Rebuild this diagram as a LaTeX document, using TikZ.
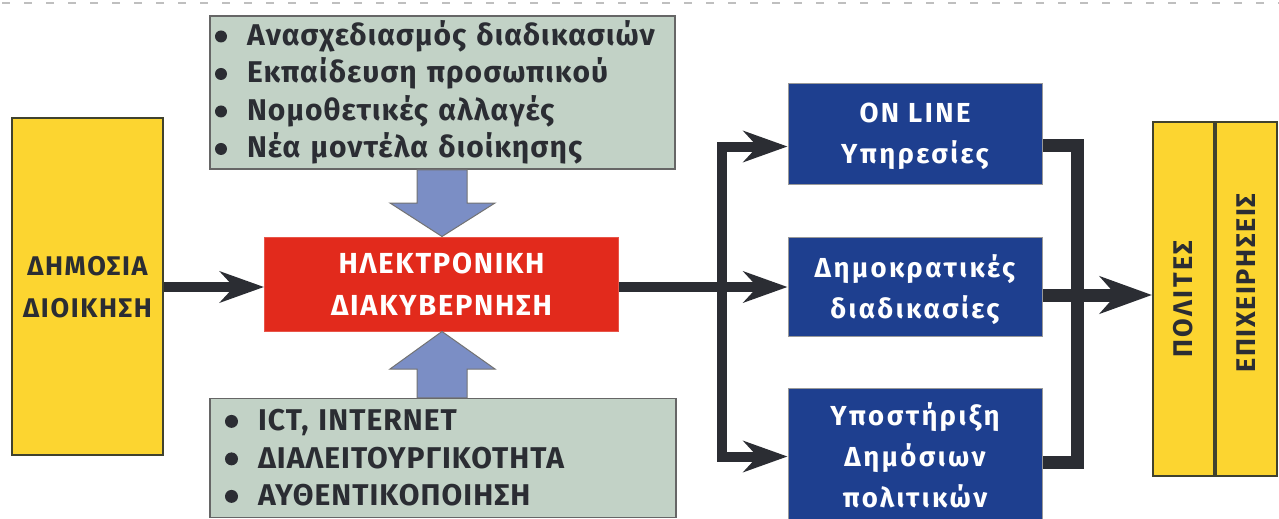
\documentclass[tikz,border=0pt]{standalone}
\usepackage{fontspec}
\setmainfont{Fira Sans}
\newfontfamily\widefont[LetterSpace=6]{Fira Sans}
\newfontfamily\widerfont[LetterSpace=9]{Fira Sans}
\newfontfamily\listfont[LetterSpace=3.5]{Fira Sans}
\usetikzlibrary{arrows.meta,calc}
\definecolor{yel}{HTML}{FCD530}
\definecolor{dk}{HTML}{2B2D33}
\definecolor{gry}{HTML}{C2D2C6}
\definecolor{blu}{HTML}{1E3F8F}
\definecolor{rd}{HTML}{E22A1C}
\definecolor{barr}{HTML}{7B8EC5}
\newcommand\bulA{\makebox[32pt][l]{\tikz[baseline=0pt,x=1pt,y=1pt]\fill (6,9) circle[radius=6pt];}}
\newcommand\bulB{\makebox[33pt][l]{\tikz[baseline=0pt,x=1pt,y=1pt]\fill (6.5,9.5) circle[radius=6.5pt];}}
\tikzset{
  ybox/.style={draw=dk!90!yellow, line width=2pt, fill=yel, inner sep=0pt, align=center, text=dk, font=\widefont\bfseries\fontsize{27}{42}\selectfont},
  gbox/.style={draw=black!60, line width=1.5pt, fill=gry, inner sep=0pt, align=left, text=dk, font=\listfont\bfseries\fontsize{30}{37.5}\selectfont},
  bbox/.style={draw=black!40, line width=1pt, fill=blu, inner sep=0pt, align=center, text=white, minimum width=254pt, text depth=-5pt, font=\widerfont\bfseries\fontsize{27.5}{41}\selectfont},
  rbox/.style={draw=rd!80!white, line width=1pt, fill=rd, inner sep=0pt, align=center, text=white, text depth=-8pt, font=\widefont\bfseries\fontsize{29}{42}\selectfont},
  dline/.style={draw=dk, line width=10pt, line join=miter},
  dlinew/.style={draw=dk, line width=13pt, line join=miter},
  arr/.style={-{Stealth[length=44pt,width=31pt,inset=14pt]}},
  arrbig/.style={-{Stealth[length=52pt,width=37pt,inset=16pt]}},
  blockarrow/.style={fill=barr, draw=black!55, line width=1pt},
}
\begin{document}
\begin{tikzpicture}[x=1pt,y=-1pt]
\useasboundingbox (0,0) rectangle (1279,519);
\fill[white] (0,0) rectangle (1279,519);
% top dashed line
\draw[black!25, line width=1.5pt, dash pattern=on 8pt off 14pt] (2,3) -- (1279,3);

% nodes
\node[ybox, minimum width=151pt, minimum height=337pt, text depth=-6pt] (dd) at (87.5,286.5) {ΔΗΜΟΣΙΑ\\ΔΙΟΙΚΗΣΗ};
\node[gbox, minimum width=465pt, minimum height=153pt, text width=455pt] (top) at (442.5,92.5)
  {\bulA Ανασχεδιασμός διαδικασιών\\\bulA Εκπαίδευση προσωπικού\\\bulA Νομοθετικές αλλαγές\\\bulA Νέα μοντέλα διοίκησης};
\node[gbox, minimum width=466pt, minimum height=119pt, text width=436pt] (bot) at (443,458)
  {\bulB ICT, INTERNET\\\bulB ΔΙΑΛΕΙΤΟΥΡΓΙΚΟΤΗΤΑ\\\bulB ΑΥΘΕΝΤΙΚΟΠΟΙΗΣΗ};
\node[rbox, minimum width=354pt, minimum height=94pt] (ed) at (441.5,284) {ΗΛΕΚΤΡΟΝΙΚΗ\\ΔΙΑΚΥΒΕΡΝΗΣΗ};
\node[bbox, minimum height=101pt] (b1) at (915,133.5) {ON LINE\\Υπηρεσίες};
\node[bbox, minimum height=99pt] (b2) at (915,286.5) {Δημοκρατικές\\διαδικασίες};
\node[bbox, minimum height=133pt] (b3) at (915,455) {Υποστήριξη\\Δημόσιων\\πολιτικών};
\node[ybox, rotate=90, minimum width=354pt, minimum height=61pt, font=\widerfont\bfseries\fontsize{27}{42}\selectfont] (pol) at (1183.5,299) {ΠΟΛΙΤΕΣ};
\node[ybox, rotate=90, minimum width=354pt, minimum height=61pt] (epi) at (1246.5,299) {\hspace*{32pt}ΕΠΙΧΕΙΡΗΣΕΙΣ};

% block arrows
\draw[blockarrow] (417,0 |- top.south) -- (467,0 |- top.south) -- (467,203) -- (495,203) -- (442,0 |- ed.north) -- (390,203) -- (417,203) -- cycle;
\draw[blockarrow] (417,0 |- bot.north) -- (467,0 |- bot.north) -- (467,369) -- (495,369) -- (442,0 |- ed.south) -- (390,369) -- (417,369) -- cycle;

% connectors
\coordinate (L1) at (722,146.5);
\coordinate (L3) at (722,456.5);
\draw[dline, arr] (dd.east |- 0,287) -- (ed.west |- 0,287);
\draw[dline, arr] (ed.east |- 0,287) -- (b2.west |- 0,287);
\draw[dline, arr] (L3) -- (L1) -- (b1.west |- L1);
\draw[dline, arr] (L1) -- (L3) -- (b3.west |- L3);

\coordinate (R1) at (1077,145);
\coordinate (R3) at (1077,462);
\draw[dlinew] (b1.east |- R1) -- (R1) -- (R3) -- (b3.east |- R3);
\draw[dlinew, arrbig] (b2.east |- 0,295) -- (pol.north |- 0,295);
\end{tikzpicture}
\end{document}
